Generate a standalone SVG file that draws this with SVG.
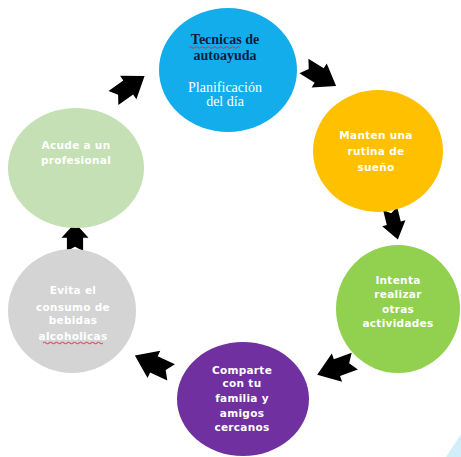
<svg xmlns="http://www.w3.org/2000/svg" width="461" height="457" viewBox="0 0 461 457">
<style>
.lbl{font-family:"DejaVu Sans",sans-serif;font-weight:bold;font-size:10.5px;fill:#ffffff;text-anchor:middle;letter-spacing:0.3px}
.ser{font-family:"Liberation Serif",serif;font-size:14px;text-anchor:middle}
.arr{fill:#000000}
.wavy{fill:none;stroke:#e0303a;stroke-width:1}
</style>
<defs>
<path id="ah" d="M-20,-9 L-1,-9 L-1,-15 L20,0 L-1,15 L-1,9 L-20,9 L-14,0 Z"/>
</defs>
<rect width="461" height="457" fill="#ffffff"/>
<path d="M446,457 L461,434 L461,457 Z" fill="#d2eef9"/>
<g id="connectors">
<use href="#ah" class="arr" transform="translate(320,76) rotate(32) scale(0.95)"/>
<use href="#ah" class="arr" transform="translate(394,224) rotate(76) scale(0.8)"/>
<use href="#ah" class="arr" transform="translate(336,368) rotate(160) scale(1)"/>
<use href="#ah" class="arr" transform="translate(153,364) rotate(205) scale(1)"/>
<use href="#ah" class="arr" transform="translate(75,237) rotate(-90) scale(0.7,0.9)"/>
<use href="#ah" class="arr" transform="translate(129,87) rotate(-35) scale(0.95)"/>
</g>
<g id="n1">
<ellipse cx="228" cy="70" rx="69" ry="62" fill="#12adea"/>
<text class="ser" x="225" y="44" font-weight="bold" fill="#0d1b3e">Tecnicas de</text>
<text class="ser" x="225" y="60" font-weight="bold" fill="#0d1b3e">autoayuda</text>
<path class="wavy" d="M189,47.5 q1.5,-1.5 3,0 t3,0 t3,0 t3,0 t3,0 t3,0 t3,0 t3,0 t3,0 t3,0 t3,0 t3,0 t3,0 t3,0 t3,0 t3,0 t3,0"/>
<text class="ser" x="225" y="92" fill="#ffffff">Planificación</text>
<text class="ser" x="225" y="106" fill="#ffffff">del día</text>
</g>
<g id="n2">
<ellipse cx="378" cy="151" rx="65" ry="61" fill="#ffc000"/>
<text class="lbl" x="376" y="139">Manten una</text>
<text class="lbl" x="376" y="155">rutina de</text>
<text class="lbl" x="376" y="171">sueño</text>
</g>
<g id="n3">
<ellipse cx="398" cy="309" rx="62" ry="64" fill="#92d050"/>
<text class="lbl" x="398" y="284">Intenta</text>
<text class="lbl" x="398" y="298">realizar</text>
<text class="lbl" x="398" y="313">otras</text>
<text class="lbl" x="398" y="327">actividades</text>
</g>
<g id="n4">
<ellipse cx="243" cy="399" rx="66" ry="57" fill="#7030a0"/>
<text class="lbl" x="242" y="374">Comparte</text>
<text class="lbl" x="242" y="387">con tu</text>
<text class="lbl" x="242" y="402">familia y</text>
<text class="lbl" x="242" y="417">amigos</text>
<text class="lbl" x="242" y="431">cercanos</text>
</g>
<g id="n5">
<ellipse cx="72" cy="311" rx="64" ry="62" fill="#d4d4d4"/>
<text class="lbl" x="73" y="294">Evita el</text>
<text class="lbl" x="73" y="311">consumo de</text>
<text class="lbl" x="73" y="324">bebidas</text>
<text class="lbl" x="73" y="340">alcoholicas</text>
<path class="wavy" d="M43,343 q1.5,-1.5 3,0 t3,0 t3,0 t3,0 t3,0 t3,0 t3,0 t3,0 t3,0 t3,0 t3,0 t3,0 t3,0 t3,0 t3,0 t3,0 t3,0 t3,0 t3,0 t3,0"/>
</g>
<g id="n6">
<ellipse cx="76" cy="168" rx="68" ry="60" fill="#c5e0b4"/>
<text class="lbl" x="76" y="149">Acude a un</text>
<text class="lbl" x="76" y="164">profesional</text>
</g>
</svg>
